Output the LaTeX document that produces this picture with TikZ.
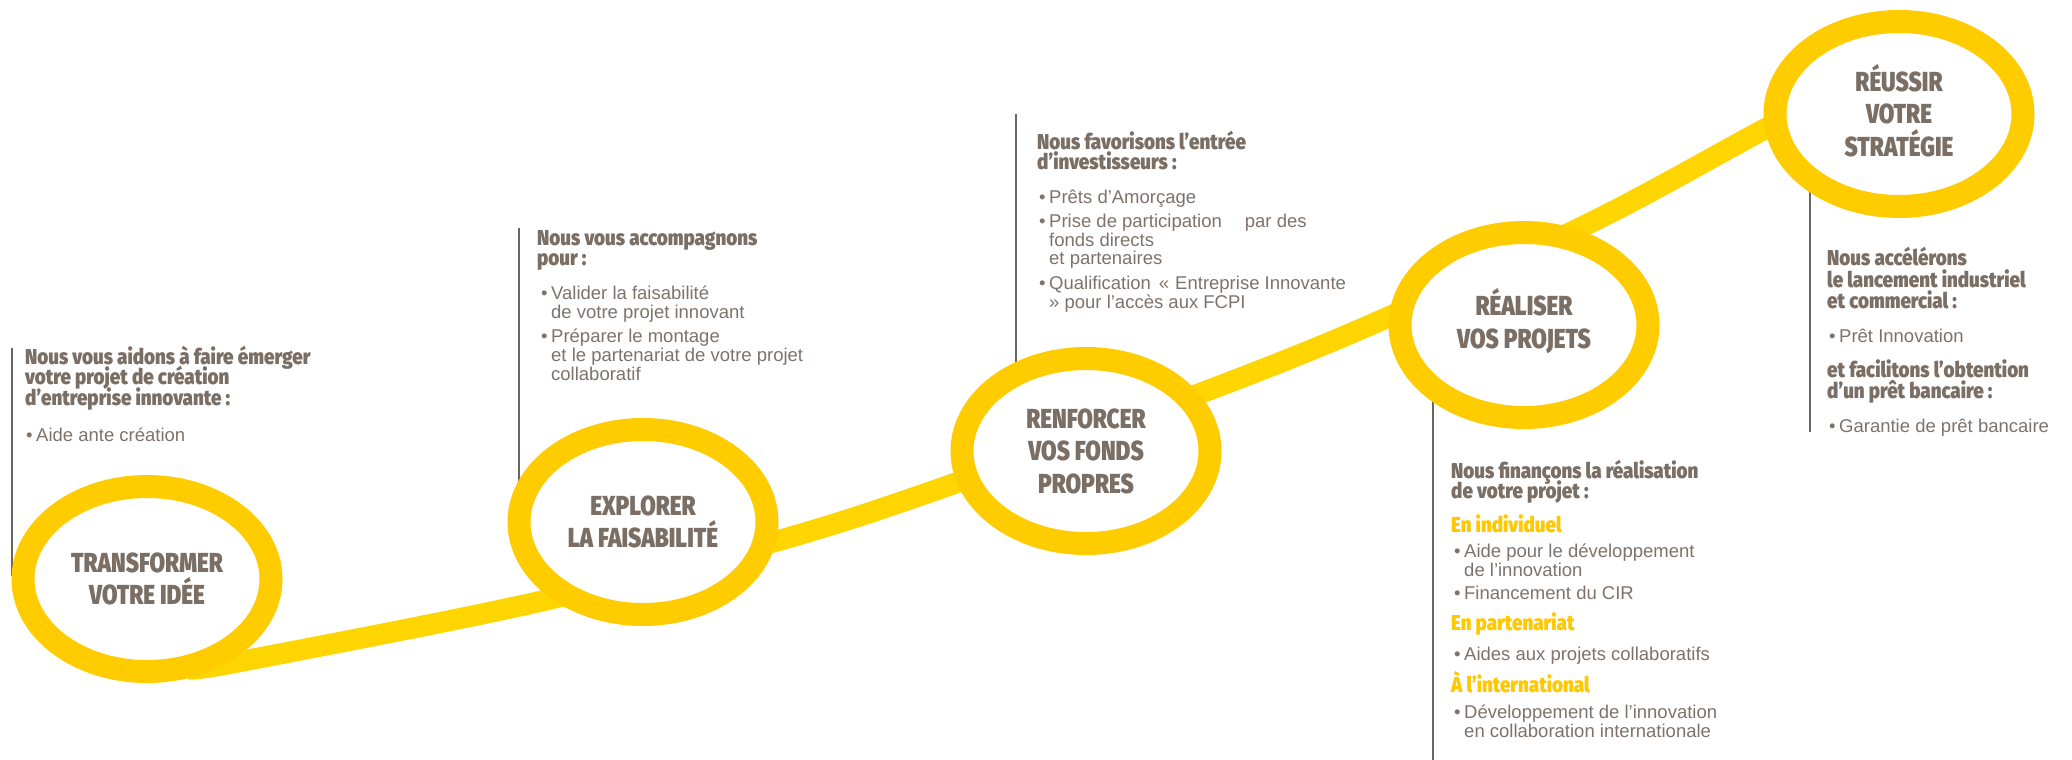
\documentclass[tikz,border=0pt]{standalone}
\usepackage{fontspec}
\setmainfont{Liberation Sans}
\newfontfamily\titlef[FakeStretch=0.82]{Fira Sans Black}
\newfontfamily\headf[FakeStretch=0.875]{Fira Sans Black}
\usetikzlibrary{shapes.geometric}
\definecolor{txt}{HTML}{7A6E65}
\definecolor{bodyc}{HTML}{7D736C}
\definecolor{ringc}{HTML}{FFCC00}
\definecolor{bandc}{HTML}{FFD500}
\definecolor{ylw}{HTML}{FFC800}
\definecolor{rulec}{HTML}{6F645D}
\newcommand\mybul{•\hspace{3.5pt}}
\begin{document}
\begin{tikzpicture}[x=1pt,y=-1pt,
  ring/.style={ellipse, draw=ringc, line width=23pt, fill=white, inner sep=0pt,
    minimum width=248pt, minimum height=185pt, align=center, text=txt,
    font=\titlef\fontsize{27.5}{32.5}\selectfont},
  band/.style={draw=bandc, line width=21pt, line cap=butt},
  vrule/.style={draw=rulec, line width=2.2pt},
  hd/.style={anchor=base west, inner sep=0pt, text=txt,
    font=\headf\fontsize{21.5}{21}\selectfont},
  sb/.style={hd, text=ylw},
  bd/.style={anchor=base west, inner sep=0pt, text=bodyc,
    font=\fontsize{18.5}{19}\selectfont}]
\fill[white] (0,0) rectangle (2072,760);
\useasboundingbox (0,0) rectangle (2072,760);

% band waypoints
\coordinate (p0) at (190,669);
\coordinate (p1) at (243,661);
\coordinate (p2) at (533,603);
\coordinate (p3) at (777,541);
\coordinate (p4) at (953,484);
\coordinate (p5) at (1230,382);
\coordinate (p6) at (1393,315);
\coordinate (p7) at (1600,218);
\coordinate (p8) at (1763,130);
\coordinate (p9) at (1830,97);
\draw[band] plot[smooth, tension=0.55] coordinates {(p0) (p1) (p2) (p3) (p4) (p5) (p6) (p7) (p8) (p9)};

% vertical rules
\coordinate (v1a) at (12,348);   \coordinate (v1b) at (12,576);
\coordinate (v2a) at (519,228);  \coordinate (v2b) at (519,500);
\coordinate (v3a) at (1016,114); \coordinate (v3b) at (1016,400);
\coordinate (v4a) at (1433,760); \coordinate (v4b) at (1433,360);
\coordinate (v5a) at (1810,432); \coordinate (v5b) at (1810,160);
\draw[vrule] (v1a) -- (v1b);
\draw[vrule] (v2a) -- (v2b);
\draw[vrule] (v3a) -- (v3b);
\draw[vrule] (v4a) -- (v4b);
\draw[vrule] (v5a) -- (v5b);

% steps
\node[ring] (e1) at (147,579) {TRANSFORMER\\VOTRE IDÉE};
\node[ring] (e2) at (643,522) {EXPLORER\\LA FAISABILITÉ};
\node[ring] (e3) at (1086,451) {RENFORCER\\VOS FONDS\\PROPRES};
\node[ring] (e4) at (1524,325) {R\smash{É}ALISER\\VOS PROJETS};
\node[ring] (e5) at (1899,114) {R\smash{É}USSIR\\VOTRE\\STRATÉGIE};

% block 1
\node[hd] (h1a) at (25,364) {Nous vous aidons à faire émerger};
\node[hd] (h1b) at (25,384.5) {votre projet de création};
\node[hd] (h1c) at (25,405) {d’entreprise innovante :};
\node[bd] (t1a) at (26,441) {\mybul Aide ante création};

% block 2
\node[hd] (h2a) at (537,245) {Nous vous accompagnons};
\node[hd] (h2b) at (537,265) {pour :};
\node[bd] (t2a) at (541,299) {\mybul Valider la faisabilité};
\node[bd] (t2b) at (551,318) {de votre projet innovant};
\node[bd] (t2c) at (541,342) {\mybul Préparer le montage};
\node[bd] (t2d) at (551,361) {et le partenariat de votre projet};
\node[bd] (t2e) at (551,380) {collaboratif};

% block 3
\node[hd] (h3a) at (1037,149) {Nous favorisons l’entrée};
\node[hd] (h3b) at (1037,169) {d’investisseurs :};
\node[bd] (t3a) at (1039,203) {\mybul Prêts d’Amorçage};
\node[bd] (t3b) at (1039,227) {\mybul Prise de participation\hspace{23pt}par des};
\node[bd] (t3c) at (1049,246) {fonds directs};
\node[bd] (t3d) at (1049,264) {et partenaires};
\node[bd] (t3e) at (1039,289) {\mybul Qualification\hspace{8pt}«\hspace{6pt}Entreprise Innovante};
\node[bd] (t3f) at (1049,308) {» pour l’accès aux FCPI};

% block 4
\node[hd] (h4a) at (1451,478) {Nous finançons la réalisation};
\node[hd] (h4b) at (1451,498) {de votre projet :};
\node[sb] (s4a) at (1451,532) {En individuel};
\node[bd] (t4a) at (1454,557) {\mybul Aide pour le développement};
\node[bd] (t4b) at (1464,576) {de l’innovation};
\node[bd] (t4c) at (1454,599) {\mybul Financement du CIR};
\node[sb] (s4b) at (1451,630) {En partenariat};
\node[bd] (t4d) at (1454,660) {\mybul Aides aux projets collaboratifs};
\node[sb] (s4c) at (1451,692) {À l’international};
\node[bd] (t4e) at (1454,718) {\mybul Développement de l’innovation};
\node[bd] (t4f) at (1464,737) {en collaboration internationale};

% block 5
\node[hd] (h5a) at (1827,265) {Nous accélérons};
\node[hd] (h5b) at (1827,287) {le lancement industriel};
\node[hd] (h5c) at (1827,308) {et commercial :};
\node[bd] (t5a) at (1829,342) {\mybul Prêt Innovation};
\node[hd] (h5d) at (1827,377) {et facilitons l’obtention};
\node[hd] (h5e) at (1827,398) {d’un prêt bancaire :};
\node[bd] (t5b) at (1829,432) {\mybul Garantie de prêt bancaire};
\end{tikzpicture}
\end{document}
